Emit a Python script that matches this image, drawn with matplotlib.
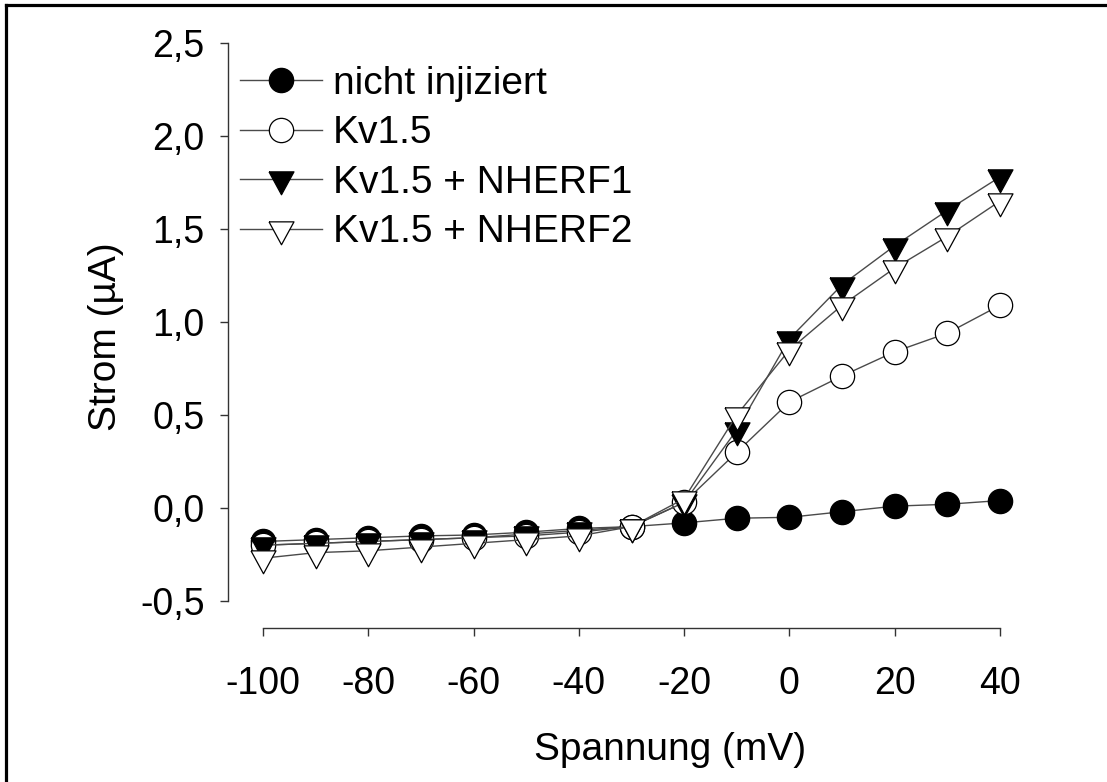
import matplotlib
matplotlib.use("Agg")
import matplotlib.pyplot as plt
from matplotlib.lines import Line2D

plt.rcParams['font.family'] = ['Liberation Sans', 'DejaVu Sans']
plt.rcParams['axes.unicode_minus'] = False

# Spannung (mV)
voltage = [-100, -90, -80, -70, -60, -50, -40, -30, -20, -10, 0, 10, 20, 30, 40]

# Strom (uA)
nicht_injiziert = [-0.18, -0.17, -0.16, -0.15, -0.145, -0.13, -0.11, -0.10,
                   -0.08, -0.055, -0.05, -0.02, 0.01, 0.02, 0.04]
kv15 = [-0.20, -0.19, -0.18, -0.17, -0.16, -0.15, -0.13, -0.10,
        0.03, 0.30, 0.57, 0.71, 0.84, 0.94, 1.09]
kv15_nherf1 = [-0.20, -0.19, -0.18, -0.17, -0.16, -0.14, -0.12, -0.10,
               0.03, 0.42, 0.91, 1.20, 1.41, 1.60, 1.78]
kv15_nherf2 = [-0.27, -0.24, -0.23, -0.21, -0.19, -0.17, -0.15, -0.10,
               0.05, 0.50, 0.85, 1.09, 1.29, 1.46, 1.65]

labels = ['nicht injiziert', 'Kv1.5', 'Kv1.5 + NHERF1', 'Kv1.5 + NHERF2']

xticks = [-100, -80, -60, -40, -20, 0, 20, 40]
xticklabels = ['-100', '-80', '-60', '-40', '-20', '0', '20', '40']
yticks = [-0.5, 0.0, 0.5, 1.0, 1.5, 2.0, 2.5]
yticklabels = ['-0,5', '0,0', '0,5', '1,0', '1,5', '2,0', '2,5']

W, H = 1107, 782
fig = plt.figure(figsize=(W / 100, H / 100), dpi=100)
ax = fig.add_axes([263 / W, 1 - 601 / H, (1000 - 263) / W, (601 - 43) / H])

# down triangle centred on its centroid (like SigmaPlot draws it)
tri_down = [(-0.817, 0.5), (0.817, 0.5), (0.0, -1.0), (-0.817, 0.5)]

line_col = '#4a4a4a'
styles = [
    dict(marker='o', markerfacecolor='black', markersize=17.5),
    dict(marker='o', markerfacecolor='white', markersize=17.5),
    dict(marker=tri_down, markerfacecolor='black', markersize=22),
    dict(marker=tri_down, markerfacecolor='white', markersize=22),
]
series = [nicht_injiziert, kv15, kv15_nherf1, kv15_nherf2]

for vals, lab, st in zip(series, labels, styles):
    ax.plot(voltage, vals, color=line_col, linewidth=1.0,
            markeredgecolor='black', markeredgewidth=0.9,
            label=lab, clip_on=False, **st)

ax.set_xlim(-100, 40)
ax.set_ylim(-0.5, 2.5)
ax.set_xticks(xticks)
ax.set_xticklabels(xticklabels)
ax.set_yticks(yticks)
ax.set_yticklabels(yticklabels)

for s in ['top', 'right']:
    ax.spines[s].set_visible(False)
ax.spines['left'].set_position(('outward', 25))
ax.spines['bottom'].set_position(('outward', 19.5))
for s in ['left', 'bottom']:
    ax.spines[s].set_color('#333333')
    ax.spines[s].set_linewidth(1.0)

ax.tick_params(axis='both', direction='out', length=6, width=1.0,
               color='#333333', labelsize=27)
ax.tick_params(axis='y', pad=11)
ax.tick_params(axis='x', pad=21)

ax.set_xlabel('Spannung (mV)', fontsize=28)
ax.set_ylabel('Strom (µA)', fontsize=28)
ax.xaxis.label.set_va('center')
ax.yaxis.label.set_va('center')
ax.xaxis.set_label_coords((670 - 263) / 737, (601 - 750) / 558)
ax.yaxis.set_label_coords((106 - 263) / 737, (601 - 337) / 558)

ax.legend(loc='upper left', bbox_to_anchor=(240 / W, 1 - 66 / H),
          bbox_transform=fig.transFigure, frameon=False, fontsize=28,
          handlelength=2.11, handletextpad=0.28, labelspacing=0.345,
          borderpad=0, borderaxespad=0, numpoints=1)

# frame round the picture (top and left edges only are visible)
fig.add_artist(Line2D([0.0056, 1], [1 - 5.3 / H, 1 - 5.3 / H],
                      transform=fig.transFigure, color='black', linewidth=2.3))
fig.add_artist(Line2D([0.0056, 0.0056], [0, 1 - 5.3 / H],
                      transform=fig.transFigure, color='black', linewidth=2.3))

fig.savefig('out.png', dpi=100)
